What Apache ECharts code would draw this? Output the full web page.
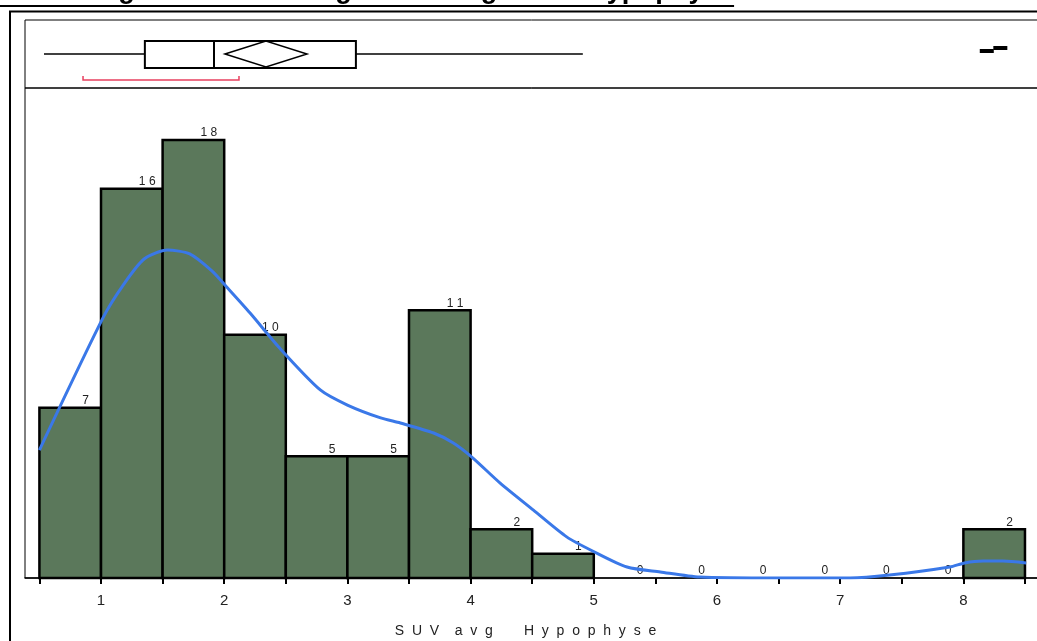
<!DOCTYPE html>
<html>
<head>
<meta charset="utf-8">
<script src="https://cdn.jsdelivr.net/npm/echarts@6/dist/echarts.min.js"></script>
<style>
  html, body { margin: 0; padding: 0; background: #fff; overflow: hidden; }
  #chart { width: 1037px; height: 641px; }
</style>
</head>
<body>
<div id="chart"></div>
<script>
// histogram bins (left edges, width 0.5) and counts
const binStarts = [0.5, 1, 1.5, 2, 2.5, 3, 3.5, 4, 4.5, 5, 5.5, 6, 6.5, 7, 7.5, 8];
const binWidth = 0.5;
const counts = [7, 16, 18, 10, 5, 5, 11, 2, 1, 0, 0, 0, 0, 0, 0, 2];

// density curve
const densityX = [0.5, 1.02, 1.18, 1.35, 1.54, 1.72, 1.9, 2.02, 2.21, 2.45, 2.78, 3.0, 3.27, 3.43, 3.7, 3.86, 4.01, 4.24, 4.51, 4.78, 4.99, 5.27, 5.54, 5.86, 6.5, 7.08, 7.4, 7.89, 8.01, 8.16, 8.32, 8.51];
const densityY = [5.26, 10.73, 12.04, 13.11, 13.48, 13.32, 12.62, 11.96, 10.89, 9.45, 7.73, 7.11, 6.58, 6.37, 5.96, 5.55, 4.97, 3.9, 2.79, 1.69, 1.11, 0.45, 0.25, 0.04, 0, 0, 0.12, 0.45, 0.62, 0.7, 0.7, 0.62];

// box plot panel: whisker low, q1, median, q3, whisker high
const boxStats = [0.537, 1.356, 1.917, 3.069, 4.911];
const meanValue = 2.339;
const meanCI = [2.006, 2.672];
const shortestHalf = [0.854, 2.12];
const outliers = [8.19, 8.30];

const xTicks = [0.5, 1, 1.5, 2, 2.5, 3, 3.5, 4, 4.5, 5, 5.5, 6, 6.5, 7, 7.5, 8, 8.5];
const xLabels = [1, 2, 3, 4, 5, 6, 7, 8];

const titleText = 'Abbildung 8: Anreicherungsverteilung in der Hypophyse';
const axisTitle = 'S  U  V    a  v  g        H  y  p  o  p  h  y  s  e';

const BAR_COLOR = '#5B785B';
const LINE_COLOR = '#3A78E8';
const FONT = 'Arial, "Liberation Sans", sans-serif';
const TITLE_FONT = 'bold 27.3px ' + FONT;

const spaced = v => String(v).split('').join(' ');

// measure title width for the underline
const ctx = document.createElement('canvas').getContext('2d');
ctx.font = TITLE_FONT;
const titleWidth = ctx.measureText(titleText).width;

const X_MIN = 0.383, X_MAX = 8.622;

const chart = echarts.init(document.getElementById('chart'));

const option = {
  animation: false,
  backgroundColor: '#fff',
  graphic: [
    { type: 'text', left: 0, top: -23, style: { text: titleText, font: TITLE_FONT, fill: '#000' } },
    { type: 'rect', shape: { x: 0, y: 5, width: titleWidth, height: 2 }, style: { fill: '#000' } },
    { type: 'line', shape: { x1: 9, y1: 11.5, x2: 1037, y2: 11.5 }, style: { stroke: '#000', lineWidth: 2 } },
    { type: 'line', shape: { x1: 10, y1: 11, x2: 10, y2: 641 }, style: { stroke: '#000', lineWidth: 2 } }
  ],
  grid: [
    { left: 25, right: -3, top: 20, height: 68, show: true, borderColor: '#000', borderWidth: 1, outerBoundsMode: 'none' },
    { left: 25, right: -3, top: 88, bottom: 63, show: true, borderColor: '#000', borderWidth: 1, outerBoundsMode: 'none' }
  ],
  xAxis: [
    { gridIndex: 0, type: 'value', min: X_MIN, max: X_MAX, show: false },
    {
      gridIndex: 1, type: 'value', min: X_MIN, max: X_MAX,
      name: axisTitle, nameLocation: 'middle', nameGap: 46,
      nameTextStyle: { fontSize: 14, color: '#222', fontFamily: FONT, padding: [0, 14, 0, 0] },
      splitLine: { show: false },
      axisLine: { lineStyle: { color: '#000', width: 1.5 } },
      axisTick: { customValues: xTicks, length: 6, lineStyle: { color: '#000', width: 2 } },
      axisLabel: { customValues: xLabels, fontSize: 15, color: '#222', fontFamily: FONT, margin: 15 }
    }
  ],
  yAxis: [
    { gridIndex: 0, type: 'value', min: 0, max: 1, show: false },
    { gridIndex: 1, type: 'value', min: 0, max: 20.14, show: false }
  ],
  series: [
    {
      // box plot with mean diamond, shortest-half bracket and outliers
      type: 'custom',
      xAxisIndex: 0, yAxisIndex: 0,
      data: [boxStats],
      renderItem: (params, api) => {
        const cs = params.coordSys;
        const px = v => api.coord([v, 0])[0];
        const yMid = cs.y + 34, yTop = cs.y + 21, yBot = cs.y + 48;
        const [lo, q1, med, q3, hi] = boxStats.map(px);
        const m = px(meanValue), c0 = px(meanCI[0]), c1 = px(meanCI[1]);
        const s0 = px(shortestHalf[0]), s1 = px(shortestHalf[1]);
        const whisker = { stroke: '#000', lineWidth: 1.5 };
        const heavy = { fill: 'none', stroke: '#000', lineWidth: 2 };
        const children = [
          { type: 'line', shape: { x1: lo, y1: yMid, x2: q1, y2: yMid }, style: whisker },
          { type: 'line', shape: { x1: q3, y1: yMid, x2: hi, y2: yMid }, style: whisker },
          { type: 'rect', shape: { x: q1, y: yTop, width: q3 - q1, height: yBot - yTop }, style: heavy },
          { type: 'line', shape: { x1: med, y1: yTop, x2: med, y2: yBot }, style: heavy },
          { type: 'polygon', shape: { points: [[c0, yMid], [m, yTop], [c1, yMid], [m, yBot - 1]] }, style: { fill: 'none', stroke: '#000', lineWidth: 1.5 } },
          { type: 'polyline', shape: { points: [[s0, cs.y + 56], [s0, cs.y + 60], [s1, cs.y + 60], [s1, cs.y + 56]] }, style: { stroke: '#E8405F', lineWidth: 1.5, fill: null } }
        ];
        outliers.forEach((o, i) => {
          const ox = px(o);
          children.push({ type: 'rect', shape: { x: ox - 7, y: cs.y + 29 - i * 3, width: 14, height: 4 }, style: { fill: '#000' } });
        });
        return { type: 'group', children };
      },
      z: 3
    },
    {
      // histogram bars
      type: 'custom',
      xAxisIndex: 1, yAxisIndex: 1,
      data: binStarts.map((s, i) => [s, s + binWidth, counts[i]]),
      encode: { x: [0, 1], y: 2 },
      renderItem: (params, api) => {
        const x0 = api.value(0), x1 = api.value(1), c = api.value(2);
        const p0 = api.coord([x0, c]);
        const p1 = api.coord([x1, 0]);
        const lab = api.coord([x0 + 0.75 * (x1 - x0), c]);
        const children = [];
        if (c > 0) {
          children.push({
            type: 'rect',
            shape: { x: p0[0], y: p0[1], width: p1[0] - p0[0], height: p1[1] - p0[1] },
            style: { fill: BAR_COLOR, stroke: '#000', lineWidth: 2.5 }
          });
        }
        children.push({
          type: 'text', x: lab[0], y: lab[1] - 1,
          style: { text: spaced(c), font: '12px ' + FONT, fill: '#222', align: 'center', verticalAlign: 'bottom' }
        });
        return { type: 'group', children };
      },
      z: 2
    },
    {
      type: 'line',
      xAxisIndex: 1, yAxisIndex: 1,
      data: densityX.map((x, i) => [x, densityY[i]]),
      showSymbol: false,
      smooth: 0.25,
      lineStyle: { color: LINE_COLOR, width: 3 },
      z: 5
    }
  ]
};

chart.setOption(option);
</script>
</body>
</html>
